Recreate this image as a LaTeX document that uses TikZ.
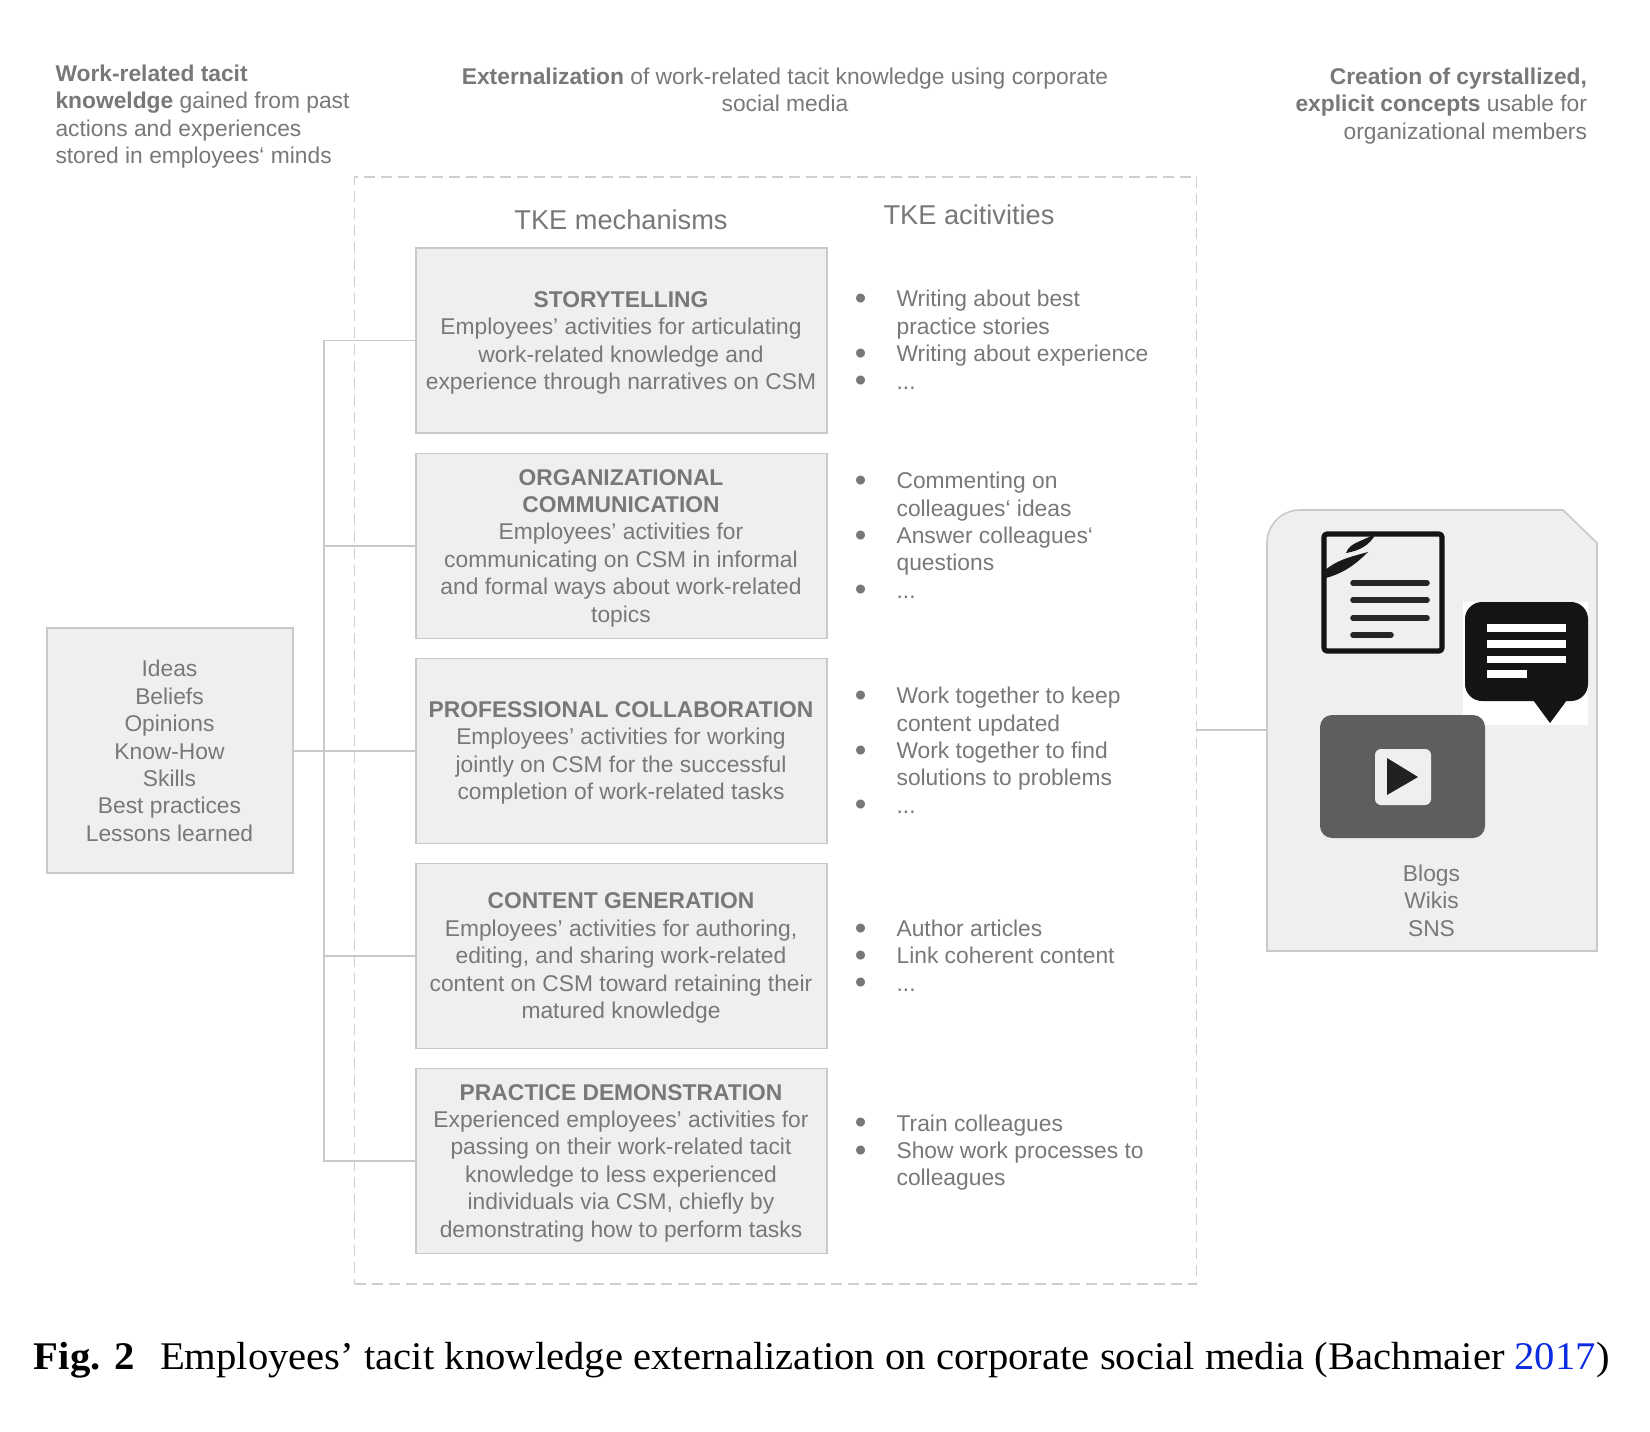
\documentclass[tikz,border=0pt]{standalone}
\usepackage{fontspec}
\setmainfont{Liberation Sans}
\newfontfamily\capfont[FakeStretch=1.038]{Liberation Serif}
\definecolor{txt}{HTML}{787878}
\definecolor{boxfill}{HTML}{EFEFEF}
\definecolor{boxline}{HTML}{C9C9C9}
\definecolor{dashline}{HTML}{CFCFCF}
\definecolor{linkblue}{HTML}{0A2BE0}
\newcommand{\itm}[1]{\leavevmode\llap{\makebox[36pt][l]{\makebox[0pt][c]{\raisebox{-2.6pt}{\fontsize{33pt}{33pt}\selectfont\textbullet}}}}#1}
\tikzset{
  x=1pt,y=-1pt,
  every node/.style={inner sep=0pt,outer sep=0pt,text=txt,font=\fontsize{22.8pt}{27.4pt}\selectfont},
  mechbox/.style={draw=boxline,fill=boxfill,line width=1.8pt,minimum width=411pt,minimum height=185pt},
  bodytext/.style={align=center},
  listtext/.style={align=left,anchor=west},
  linkline/.style={draw=boxline,line width=1.3pt},
  headtext/.style={font=\fontsize{27.2pt}{30pt}\selectfont},
  captext/.style={text=black,anchor=base west,font=\capfont\fontsize{39.2pt}{44pt}\selectfont},
}
\begin{document}
\begin{tikzpicture}
\useasboundingbox (0,0) rectangle (1650,1432);
\fill[white] (0,0) rectangle (1650,1432);

% headers
\node[align=left,anchor=west] (hleft) at (55.5,116.5) {\textbf{Work-related tacit}\\\textbf{knoweldge} gained from past\\actions and experiences\\stored in employees‘ minds};
\node[align=center] (hmid) at (785,90) {\textbf{Externalization} of work-related tacit knowledge using corporate\\social media};
\node[align=right,anchor=east] (hright) at (1587,106) {\textbf{Creation of cyrstallized,}\\\textbf{explicit concepts} usable for\\organizational members};

% dashed frame
\node[draw=dashline,line width=1.6pt,dash pattern=on 11pt off 6pt,minimum width=842pt,minimum height=1107pt] (frame) at (775.5,730.5) {};
\node[headtext] (hmech) at (621,220) {TKE mechanisms};
\node[headtext] (hact) at (969,214.7) {TKE acitivities};

% mechanism boxes
\node[mechbox] (b1) at (621.5,340.5) {};
\node[mechbox] (b2) at (621.5,546) {};
\node[mechbox] (b3) at (621.5,751) {};
\node[mechbox] (b4) at (621.5,956) {};
\node[mechbox] (b5) at (621.5,1161) {};

\node[bodytext] (t1) at (621,343) {\textbf{STORYTELLING}\\Employees’ activities for articulating\\work-related knowledge and\\experience through narratives on CSM};
\node[bodytext] (t2) at (621,548) {\textbf{ORGANIZATIONAL}\\\textbf{COMMUNICATION}\\Employees’ activities for\\communicating on CSM in informal\\and formal ways about work-related\\topics};
\node[bodytext] (t3) at (621,753) {\textbf{PROFESSIONAL COLLABORATION}\\Employees’ activities for working\\jointly on CSM for the successful\\completion of work-related tasks};
\node[bodytext] (t4) at (621,958) {\textbf{CONTENT GENERATION}\\Employees’ activities for authoring,\\editing, and sharing work-related\\content on CSM toward retaining their\\matured knowledge};
\node[bodytext] (t5) at (621,1163) {\textbf{PRACTICE DEMONSTRATION}\\Experienced employees’ activities for\\passing on their work-related tacit\\knowledge to less experienced\\individuals via CSM, chiefly by\\demonstrating how to perform tasks};

% activity lists
\node[listtext] (l1) at (896.6,341) {\itm{Writing about best}\\practice stories\\\itm{Writing about experience}\\\itm{...}};
\node[listtext] (l2) at (896.6,536.5) {\itm{Commenting on}\\colleagues‘ ideas\\\itm{Answer colleagues‘}\\questions\\\itm{...}};
\node[listtext] (l3) at (896.6,751.5) {\itm{Work together to keep}\\content updated\\\itm{Work together to find}\\solutions to problems\\\itm{...}};
\node[listtext] (l4) at (896.6,957) {\itm{Author articles}\\\itm{Link coherent content}\\\itm{...}};
\node[listtext] (l5) at (896.6,1152.5) {\itm{Train colleagues}\\\itm{Show work processes to}\\colleagues};

% left box
\node[draw=boxline,fill=boxfill,line width=1.8pt,minimum width=246pt,minimum height=245pt] (src) at (170,750.5) {};
\node[bodytext] (srct) at (169.5,751) {Ideas\\Beliefs\\Opinions\\Know-How\\Skills\\Best practices\\Lessons learned};

% connectors
\coordinate (trunk) at (324,751);
\draw[linkline] (src.east |- b3.west) -- (b3.west);
\draw[linkline] (trunk) |- (b1.west);
\draw[linkline] (trunk) |- (b2.west);
\draw[linkline] (trunk) |- (b4.west);
\draw[linkline] (trunk) |- (b5.west);

% output shape
\draw[draw=boxline,fill=boxfill,line width=1.6pt] (1267,951) -- (1267,543) arc[start angle=180,end angle=270,radius=33] -- (1563,510) -- (1597,543) -- (1597,951) -- cycle;
\coordinate (docW) at (1267,730);
\draw[linkline] (docW -| frame.east) -- (docW);

% document icon
\draw[line width=5.2pt,draw=black!92,rounded corners=3pt,line join=round] (1324,534) rectangle (1442,651);
\foreach \yy/\xe in {583/1427,600/1427,618/1427,635/1391}
  \draw[line width=5.6pt,draw=black!85,line cap=round] (1353,\yy) -- (\xe,\yy);
\fill[black!90] (1325,570) .. controls (1338,560) and (1346,558) .. (1368,552) .. controls (1352,568) and (1340,574) .. (1326,578) -- cycle;
\fill[black!90] (1346,553) .. controls (1350,542) and (1362,542) .. (1376,533) .. controls (1370,546) and (1358,551) .. (1346,553) -- cycle;

% chat icon
\fill[white] (1463,602) rectangle (1588,725);
\fill[black!92,rounded corners=17pt] (1465,602) rectangle (1588,701);
\fill[black!92] (1533,700) -- (1550,723) -- (1567,700) -- cycle;
\fill[white] (1487,624) rectangle (1566,632);
\fill[white] (1487,640) rectangle (1566,648);
\fill[white] (1487,656) rectangle (1566,663);
\fill[white] (1487,670) rectangle (1527,678);

% video icon
\fill[fill=black!63,rounded corners=12pt] (1320,715) rectangle (1485,838);
\fill[boxfill,rounded corners=6pt] (1375,749) rectangle (1431,805);
\fill[black!87] (1387,758) -- (1418,777) -- (1387,795) -- cycle;

\node[bodytext] (outt) at (1431.5,900.5) {Blogs\\Wikis\\SNS};

% caption
\node[captext] (capfig) at (34,1369) {\textbf{Fig. 2}};
\node[captext] (captxt) at (160,1369) {Employees’ tacit knowledge externalization on corporate social media (Bachmaier \textcolor{linkblue}{2017})};
\end{tikzpicture}
\end{document}
